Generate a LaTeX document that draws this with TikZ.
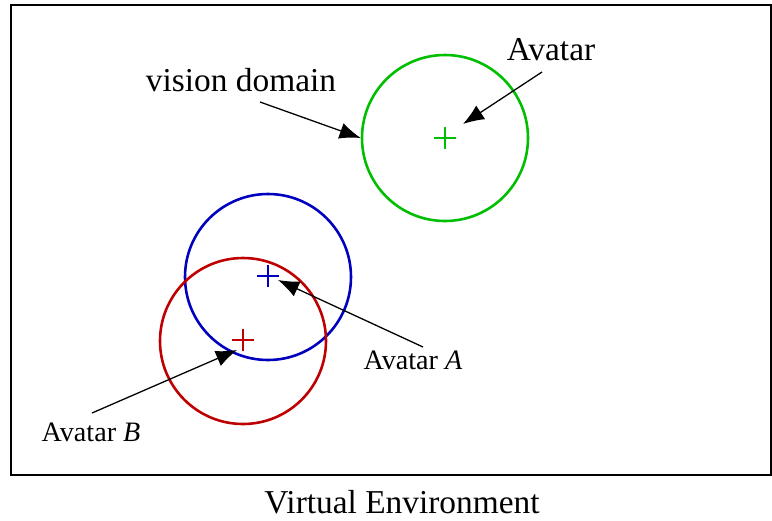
\documentclass[tikz,border=0pt]{standalone}
\usepackage{fontspec}
\setmainfont{Liberation Serif}
\usetikzlibrary{calc}
\usetikzlibrary{shapes,arrows.meta}

\begin{document}
\begin{tikzpicture}[x=0.03cm, y=-0.03cm]

 \tikzset{
    vdomain/.style={
      circle,
      minimum size=166*0.03cm,
      inner sep=0mm,
      line width=2.2pt,
      draw
    },
    pointer/.style={
      line width=1.1pt,
      -{Latex[length=18pt, width=14pt]}
    },
    biglabel/.style={font=\fontsize{28.5}{30}\selectfont},
    smalllabel/.style={font=\fontsize{24}{26}\selectfont}
  }

\definecolor{vgreen}{RGB}{0,190,0}
\definecolor{vblue}{RGB}{0,0,190}
\definecolor{vred}{RGB}{190,0,0}

\useasboundingbox (0,0) rectangle (772,520);

\draw[line width=1.1pt] (11,5) rectangle (771,475);

% vision domains
\node[vdomain, color=vgreen] (green) at (445,138) {};
\node[vdomain, color=vblue] (blue) at (268,277) {};
\node[vdomain, color=vred] (red) at (243,341) {};

% avatars
\foreach \name/\x/\y/\c in {avG/445/138/vgreen, avA/268/276/vblue, avB/243/340/vred} {
    \coordinate (\name) at (\x,\y);
    \draw[\c, line width=2pt] ($(\name)+(-11,0)$) -- ($(\name)+(11,0)$);
    \draw[\c, line width=2pt] ($(\name)+(0,-11)$) -- ($(\name)+(0,11)$);
}

% labels
\node[biglabel] (vision) at (241,80) {vision domain};
\node[biglabel] (avatar) at (551,50) {Avatar};
\node[smalllabel] (labA) at (413,360) {Avatar \textit{A}};
\node[smalllabel] (labB) at (91,432) {Avatar \textit{B}};
\node[font=\fontsize{28.5}{30}\selectfont] (env) at (402,502) {Virtual Environment};

\coordinate (visionT) at (260,102);
\coordinate (avatarT) at (542,72);
\coordinate (labAT) at (423,347);
\coordinate (labBT) at (92,413);
\coordinate (tipG) at (463,124);
\coordinate (tipA) at (278,280);
\coordinate (tipB) at (237,350);

\draw[pointer] (visionT) -- (green.west);
\draw[pointer] (avatarT) -- (tipG);
\draw[pointer] (labAT) -- (tipA);
\draw[pointer] (labBT) -- (tipB);

\end{tikzpicture}
\end{document}
